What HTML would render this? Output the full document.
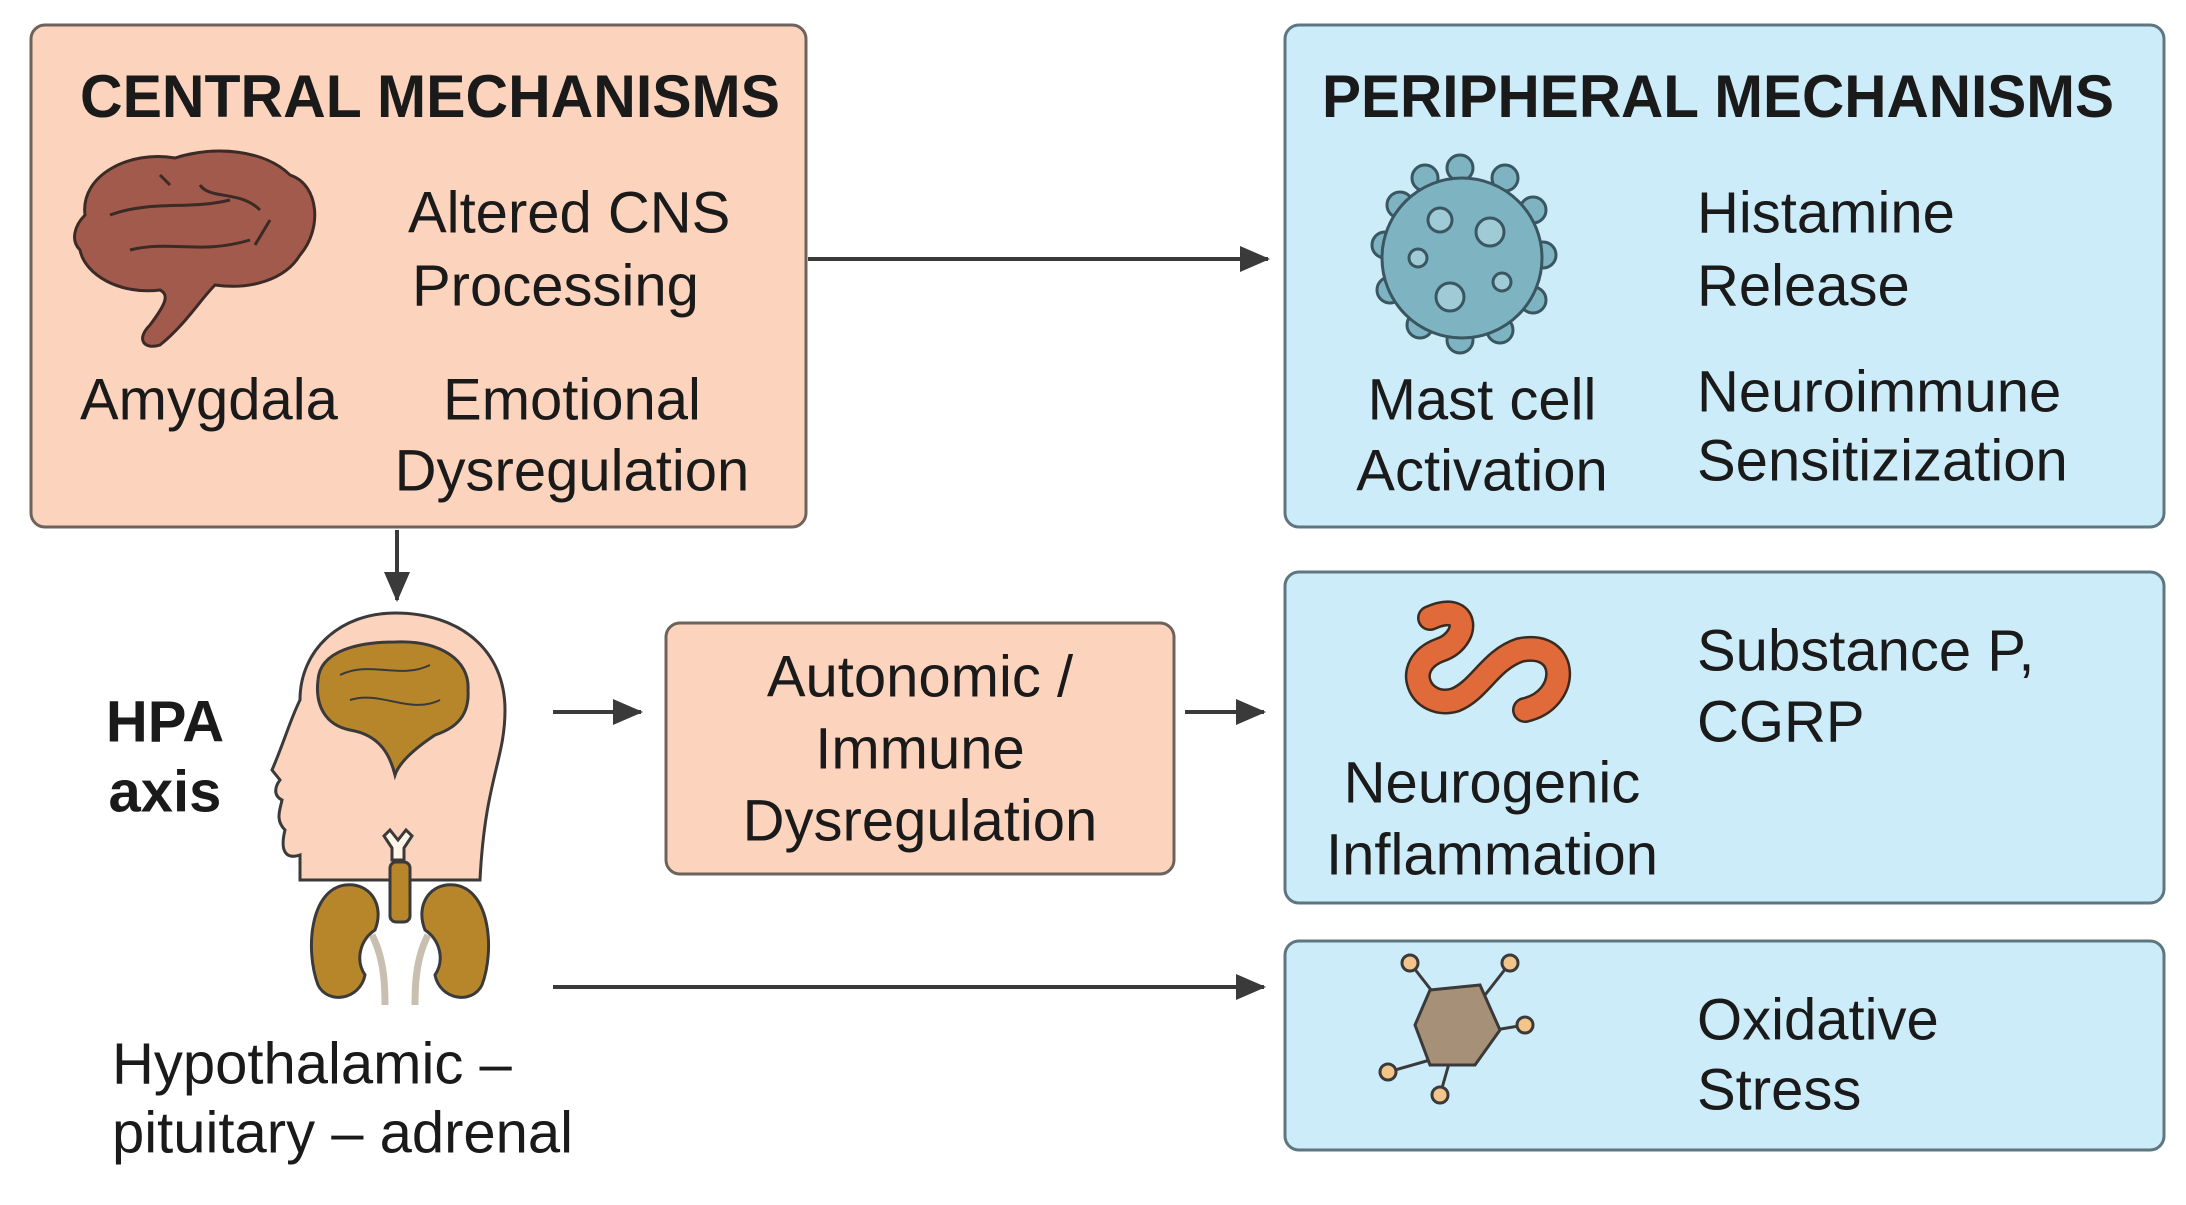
<!DOCTYPE html>
<html><head><meta charset="utf-8"><style>
html,body{margin:0;padding:0;background:#fff;}
svg{display:block;}
text{font-family:"Liberation Sans",sans-serif;fill:#1a1a1a;}
</style></head><body>
<svg width="2186" height="1205" viewBox="0 0 2186 1205" xmlns="http://www.w3.org/2000/svg">
<defs>
<marker id="ah2" markerWidth="30" markerHeight="26" refX="28" refY="13" orient="auto" markerUnits="userSpaceOnUse">
<path d="M0,0 L30,13 L0,26 z" fill="#3a3a3a"/></marker>
</defs>
<rect x="31" y="25" width="775" height="502" rx="14" fill="#fcd3bd" stroke="#6e625c" stroke-width="3"/>
<rect x="1285" y="25" width="879" height="502" rx="14" fill="#ccecf9" stroke="#5e7680" stroke-width="3"/>
<rect x="1285" y="572" width="879" height="331" rx="14" fill="#ccecf9" stroke="#5e7680" stroke-width="3"/>
<rect x="1285" y="941" width="879" height="209" rx="14" fill="#ccecf9" stroke="#5e7680" stroke-width="3"/>
<rect x="666" y="623" width="508" height="251" rx="14" fill="#fcd3bd" stroke="#6e625c" stroke-width="3"/>
<g stroke="#3a3a3a" stroke-width="4" fill="none">
<line x1="808" y1="259" x2="1268" y2="259" marker-end="url(#ah2)"/>
<line x1="397" y1="530" x2="397" y2="600" marker-end="url(#ah2)"/>
<line x1="553" y1="712" x2="641" y2="712" marker-end="url(#ah2)"/>
<line x1="1185" y1="712" x2="1264" y2="712" marker-end="url(#ah2)"/>
<line x1="553" y1="987" x2="1264" y2="987" marker-end="url(#ah2)"/>
</g>
<text x="80" y="117" font-size="60" font-weight="bold" textLength="700" lengthAdjust="spacingAndGlyphs">CENTRAL MECHANISMS</text>
<text x="1322" y="117" font-size="60" font-weight="bold" textLength="792" lengthAdjust="spacingAndGlyphs">PERIPHERAL MECHANISMS</text>
<g font-size="58" dominant-baseline="central">
<text x="408" y="213">Altered CNS</text>
<text x="412" y="286">Processing</text>
<text x="80" y="400">Amygdala</text>
<text x="572" y="400" text-anchor="middle">Emotional</text>
<text x="572" y="471" text-anchor="middle">Dysregulation</text>
<text x="1697" y="213">Histamine</text>
<text x="1697" y="286">Release</text>
<text x="1697" y="392">Neuroimmune</text>
<text x="1697" y="461">Sensitizization</text>
<text x="1482" y="400" text-anchor="middle">Mast cell</text>
<text x="1482" y="471" text-anchor="middle">Activation</text>
<text x="1697" y="651">Substance P,</text>
<text x="1697" y="722">CGRP</text>
<text x="1492" y="783" text-anchor="middle">Neurogenic</text>
<text x="1492" y="855" text-anchor="middle">Inflammation</text>
<text x="1697" y="1020">Oxidative</text>
<text x="1697" y="1090">Stress</text>
<text x="920" y="677" text-anchor="middle">Autonomic /</text>
<text x="920" y="749" text-anchor="middle">Immune</text>
<text x="920" y="821" text-anchor="middle">Dysregulation</text>
<text x="165" y="722" text-anchor="middle" font-weight="bold">HPA</text>
<text x="165" y="792" text-anchor="middle" font-weight="bold">axis</text>
<text x="112" y="1064">Hypothalamic –</text>
<text x="112" y="1133">pituitary – adrenal</text>
</g>
<g stroke="#3b2a26" stroke-width="3" fill="#a25a4c">
<path d="M85,215 C80,175 130,150 175,158 C215,145 265,150 290,175 C320,185 322,230 300,255 C285,280 250,290 215,285 C200,300 185,325 160,345 C145,350 135,340 150,325 C165,305 170,295 160,290 C120,295 85,275 80,250 C70,240 75,225 85,215 Z"/>
<path d="M110,215 C150,200 190,210 230,200 M130,250 C170,240 200,255 250,240 M200,185 C210,200 240,190 260,210 M160,175 l10,10 M270,220 l-15,25" fill="none"/>
</g>
<g fill="#7eb4c2" stroke="#3a5660" stroke-width="3">
<circle cx="1425" cy="178" r="13"/><circle cx="1460" cy="168" r="13"/><circle cx="1505" cy="178" r="13"/>
<circle cx="1533" cy="210" r="13"/><circle cx="1543" cy="255" r="13"/><circle cx="1533" cy="300" r="13"/>
<circle cx="1500" cy="330" r="13"/><circle cx="1460" cy="340" r="13"/><circle cx="1420" cy="325" r="13"/>
<circle cx="1390" cy="290" r="13"/><circle cx="1385" cy="245" r="13"/><circle cx="1400" cy="205" r="13"/>
<circle cx="1462" cy="258" r="80"/>
<g fill="#9fcbd6"><circle cx="1440" cy="220" r="12"/><circle cx="1490" cy="232" r="14"/><circle cx="1418" cy="258" r="9"/><circle cx="1450" cy="297" r="14"/><circle cx="1502" cy="282" r="9"/></g>
</g>
<path d="M1430,618 C1470,600 1470,640 1440,650 C1400,665 1420,710 1455,700 C1480,690 1490,660 1520,650 C1570,640 1570,700 1525,710" fill="none" stroke="#3a2a20" stroke-width="26" stroke-linecap="round"/>
<path d="M1430,618 C1470,600 1470,640 1440,650 C1400,665 1420,710 1455,700 C1480,690 1490,660 1520,650 C1570,640 1570,700 1525,710" fill="none" stroke="#e06a3a" stroke-width="21" stroke-linecap="round"/>
<g stroke="#3a3a3a" stroke-width="3">
<line x1="1435" y1="995" x2="1410" y2="963"/><line x1="1485" y1="995" x2="1510" y2="963"/>
<line x1="1495" y1="1030" x2="1525" y2="1025"/><line x1="1430" y1="1060" x2="1388" y2="1072"/><line x1="1450" y1="1060" x2="1440" y2="1095"/>
<polygon points="1430,990 1480,985 1500,1030 1475,1065 1430,1065 1415,1025" fill="#a69077"/>
<g fill="#f4c58a"><circle cx="1410" cy="963" r="8"/><circle cx="1510" cy="963" r="8"/><circle cx="1525" cy="1025" r="8"/><circle cx="1388" cy="1072" r="8"/><circle cx="1440" cy="1095" r="8"/></g>
</g>
<g stroke="#3a3a3a" stroke-width="3">
<path d="M300,880 L300,855 C285,860 280,850 285,830 C275,820 280,810 282,800 C272,795 276,785 280,780 L272,770 C285,740 290,720 300,700 C300,650 340,613 395,613 C460,613 505,650 505,710 C505,760 485,780 480,880 Z" fill="#fcd3bd"/>
<path d="M318,680 C320,650 360,642 395,642 C440,640 470,660 468,690 C470,720 450,730 435,735 C420,745 400,760 395,775 C390,755 380,735 350,730 C325,725 315,705 318,680 Z" fill="#b8862a"/>
<path d="M340,675 C370,660 400,680 430,665 M350,700 C380,690 410,715 440,700" fill="none" stroke-width="2"/>
<path d="M390,830 L398,840 L406,830 L412,836 L404,848 L404,860 L392,860 L392,848 L384,836 Z" fill="#fff5e8"/>
<rect x="390" y="862" width="20" height="60" rx="6" fill="#b8862a"/>
<path d="M345,885 C310,890 305,950 318,985 C328,1005 360,1000 365,975 C355,960 360,940 375,930 C385,905 370,882 345,885 Z" fill="#b8862a"/>
<path d="M455,885 C490,890 495,950 482,985 C472,1005 440,1000 435,975 C445,960 440,940 425,930 C415,905 430,882 455,885 Z" fill="#b8862a"/>
<path d="M372,935 C385,960 385,990 385,1005 M428,935 C415,960 415,990 415,1005" fill="none" stroke="#c9bfb0" stroke-width="7"/>
</g>
</svg>
</body></html>
